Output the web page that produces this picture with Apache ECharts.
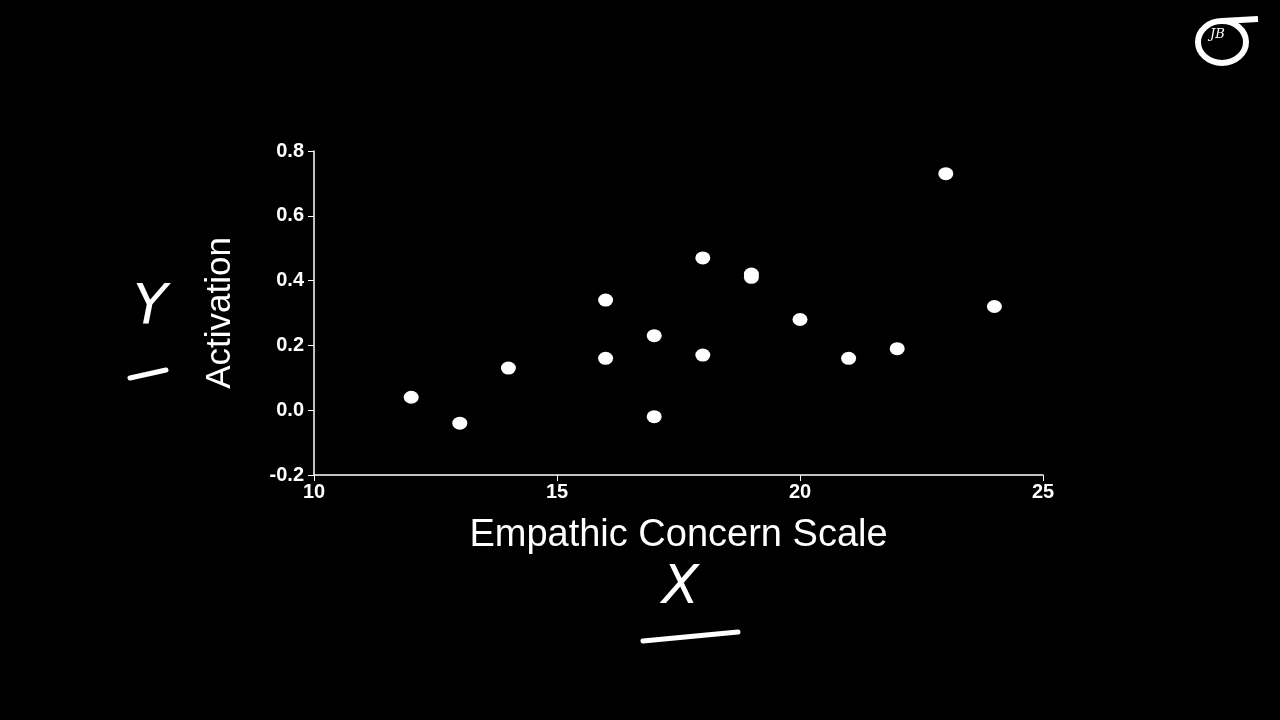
<!DOCTYPE html>
<html>
<head>
<meta charset="utf-8">
<script src="https://cdn.jsdelivr.net/npm/echarts@6/dist/echarts.min.js"></script>
<style>
  html, body { margin: 0; padding: 0; background: #000; }
  #main { width: 1280px; height: 720px; }
</style>
</head>
<body>
<div id="main"></div>
<script>
// 数据：共情量表得分 与 激活值
const empathy = [12, 13, 14, 16, 16, 17, 17, 18, 18, 19, 19, 20, 21, 22, 23, 24];
const activation = [0.04, -0.04, 0.13, 0.34, 0.16, 0.23, -0.02, 0.47, 0.17, 0.42, 0.41, 0.28, 0.16, 0.19, 0.73, 0.32];
const xTicks = [10, 15, 20, 25];
const yTicks = [-0.2, 0.0, 0.2, 0.4, 0.6, 0.8];

let points = empathy.map((x, i) => [x, activation[i]]);
let myChart = echarts.init(document.getElementById('main'));
let font = 'Liberation Sans, Arial, sans-serif';

let option = {
    backgroundColor: '#000',
    animation: false,
    grid: { left: 314, right: 237, top: 151, bottom: 245 },
    xAxis: {
        type: 'value',
        min: xTicks[0], max: xTicks[xTicks.length - 1], interval: 5,
        splitLine: { show: false },
        axisLine: { onZero: false, lineStyle: { color: '#fff', width: 1.5 } },
        axisTick: { length: 6, lineStyle: { color: '#fff' } },
        axisLabel: { color: '#fff', fontSize: 20, fontWeight: 'bold', fontFamily: font, margin: 7 },
        name: 'Empathic Concern Scale',
        nameLocation: 'middle',
        nameGap: 42,
        nameTextStyle: { color: '#fff', fontSize: 38, fontFamily: font }
    },
    yAxis: {
        type: 'value',
        min: yTicks[0], max: yTicks[yTicks.length - 1], interval: 0.2,
        splitLine: { show: false },
        axisLine: { show: true, onZero: false, lineStyle: { color: '#fff', width: 1.5 } },
        axisTick: { show: true, length: 6, lineStyle: { color: '#fff' } },
        axisLabel: {
            color: '#fff', fontSize: 20, fontWeight: 'bold', fontFamily: font, margin: 10,
            formatter: v => v.toFixed(1)
        },
        name: 'Activation',
        nameLocation: 'middle',
        nameGap: 76,
        nameTextStyle: { color: '#fff', fontSize: 35, fontFamily: font }
    },
    series: [{
        type: 'scatter',
        data: points,
        symbol: 'circle',
        symbolSize: [15, 13],
        itemStyle: { color: '#fff', opacity: 1 }
    }],
    graphic: [
        // 手写标注 Y / X
        { type: 'text', left: 133, top: 280, style: { text: 'Y', fill: '#fff', font: 'italic 56px DejaVu Sans' } },
        { type: 'line', shape: { x1: 130, y1: 378, x2: 166, y2: 370 }, style: { stroke: '#fff', lineWidth: 5, lineCap: 'round' } },
        { type: 'text', left: 662, top: 562, style: { text: 'X', fill: '#fff', font: 'italic 54px DejaVu Sans' } },
        { type: 'line', shape: { x1: 643, y1: 641, x2: 738, y2: 632 }, style: { stroke: '#fff', lineWidth: 5, lineCap: 'round' } },
        // 右上角标志
        { type: 'ellipse', shape: { cx: 1222, cy: 42, rx: 24, ry: 21 }, style: { fill: 'none', stroke: '#fff', lineWidth: 6 } },
        { type: 'line', shape: { x1: 1222, y1: 21, x2: 1258, y2: 19 }, style: { stroke: '#fff', lineWidth: 6 } },
        { type: 'text', left: 1210, top: 28, style: { text: 'JB', fill: '#fff', font: 'italic 13px DejaVu Serif' } }
    ]
};
myChart.setOption(option);
</script>
</body>
</html>
